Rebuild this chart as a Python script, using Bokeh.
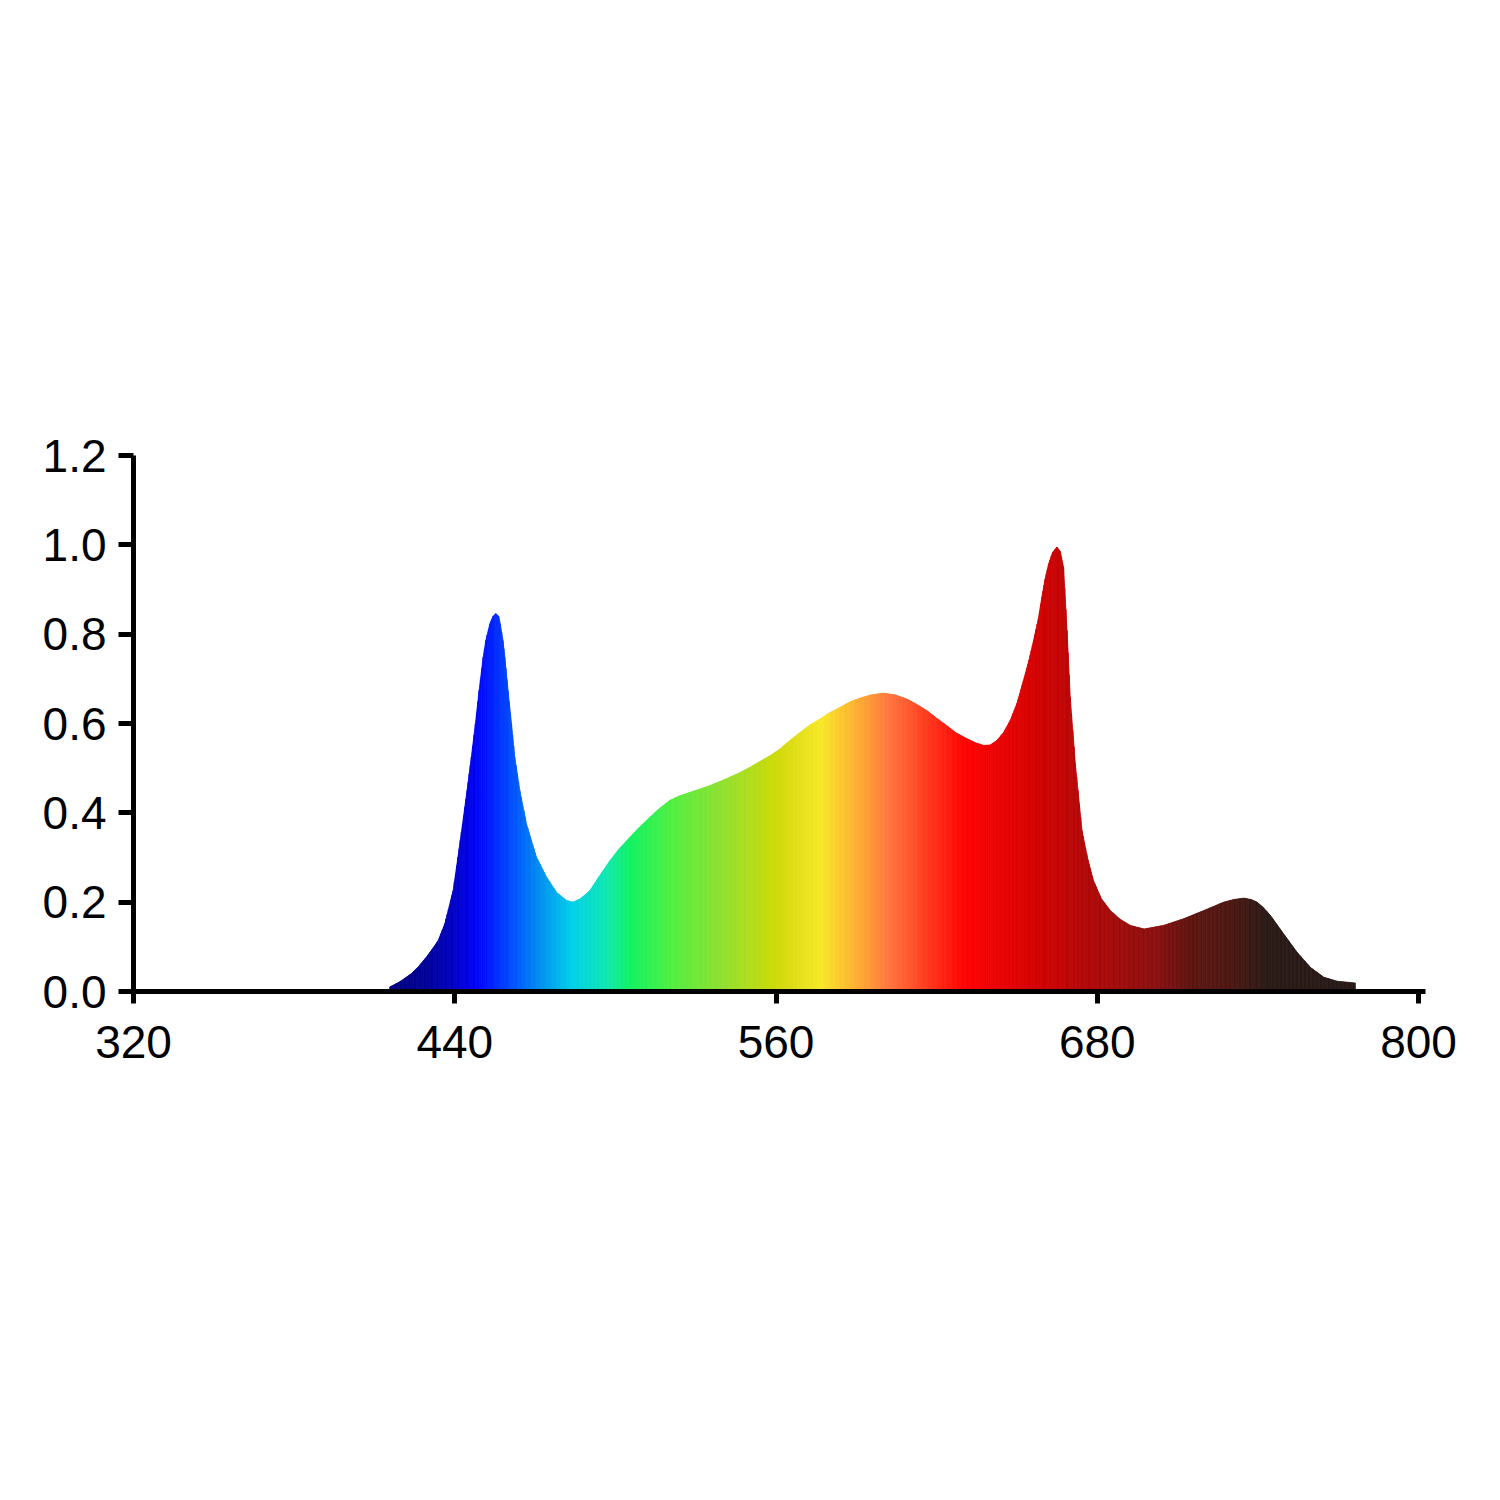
import math
from bokeh.plotting import figure
from bokeh.models import Range1d, FixedTicker, ColumnDataSource, CustomJSTickFormatter
from bokeh.embed import file_html
from bokeh.resources import INLINE

# ---- data ----
wavelength_nm = [
    415.7, 419.5, 423.8, 426.5, 429.4, 431.5, 433.8, 436.3, 439.4, 441.2,
    442.9, 444.6, 446.2, 447.7, 449.1, 450.6, 451.6, 453.1, 454.3, 455.3,
    456.4, 457.0, 458.0, 458.7, 459.9, 461.2, 462.4, 464.3, 466.8, 470.5,
    474.3, 478.0, 481.7, 484.2, 487.0, 490.5, 494.0, 498.0, 501.5, 505.4,
    509.0, 512.9, 516.5, 520.4, 524.0, 527.9, 531.5, 535.3, 539.0, 542.8,
    546.5, 550.3, 554.0, 557.8, 561.5, 565.0, 569.0, 572.5, 576.4, 580.0,
    583.9, 587.5, 591.4, 595.5, 600.1, 604.5, 608.8, 612.5, 616.3, 620.0,
    623.8, 627.0, 631.3, 634.5, 637.5, 640.0, 642.5, 645.0, 647.5, 650.0,
    652.4, 654.5, 656.2, 658.0, 659.3, 660.5, 661.8, 663.3, 664.9, 666.2,
    667.4, 668.7, 669.9, 671.8, 674.3, 676.5, 678.6, 681.5, 684.9, 688.5,
    692.3, 697.5, 704.8, 712.3, 719.7, 727.2, 731.0, 734.7, 737.5, 739.7,
    742.0, 744.7, 749.6, 754.6, 759.6, 764.6, 769.6, 776.4,
]
intensity = [
    0.010, 0.022, 0.040, 0.056, 0.077, 0.094, 0.114, 0.152, 0.226, 0.301,
    0.375, 0.450, 0.525, 0.599, 0.674, 0.748, 0.786, 0.823, 0.840, 0.846,
    0.840, 0.823, 0.786, 0.748, 0.674, 0.599, 0.525, 0.450, 0.375, 0.301,
    0.256, 0.222, 0.204, 0.200, 0.208, 0.226, 0.258, 0.293, 0.320, 0.345,
    0.368, 0.390, 0.410, 0.428, 0.438, 0.446, 0.453, 0.461, 0.470, 0.480,
    0.490, 0.502, 0.515, 0.528, 0.543, 0.561, 0.580, 0.596, 0.610, 0.624,
    0.636, 0.648, 0.657, 0.664, 0.668, 0.664, 0.655, 0.643, 0.629, 0.612,
    0.595, 0.580, 0.566, 0.557, 0.551, 0.552, 0.562, 0.580, 0.607, 0.645,
    0.696, 0.742, 0.786, 0.835, 0.883, 0.923, 0.957, 0.983, 0.995, 0.985,
    0.950, 0.808, 0.659, 0.510, 0.360, 0.295, 0.248, 0.208, 0.181, 0.162,
    0.148, 0.140, 0.148, 0.163, 0.181, 0.200, 0.206, 0.209, 0.206, 0.200,
    0.188, 0.170, 0.129, 0.088, 0.054, 0.032, 0.023, 0.019,
]
x_ticks = [320, 440, 560, 680, 800]
y_ticks = [0.0, 0.2, 0.4, 0.6, 0.8, 1.0, 1.2]

# ---- spectrum colour stops (style) ----
color_stops = [
    (414, "#00007a"), (430, "#00009a"), (440, "#0000c8"), (447, "#0000f0"),
    (451, "#0010ff"), (459, "#0040ff"), (472, "#0090f0"), (484, "#00d0e8"),
    (497, "#10e8b0"), (506, "#12f260"), (521, "#50f040"), (540, "#90e030"),
    (559, "#cada08"), (565, "#dcdc10"), (577, "#f8e828"), (590, "#fcb030"),
    (602, "#ff7840"), (615, "#ff4020"), (631, "#ff0000"), (652, "#dd0000"),
    (677, "#b00808"), (702, "#8a1010"), (714, "#601410"), (731, "#4a1812"),
    (743, "#2a1a16"), (780, "#261a16"),
]


def hex_rgb(h):
    return tuple(int(h[i:i + 2], 16) for i in (1, 3, 5))


def spectrum_color(w):
    if w <= color_stops[0][0]:
        return color_stops[0][1]
    for (w0, c0), (w1, c1) in zip(color_stops[:-1], color_stops[1:]):
        if w0 <= w <= w1:
            t = (w - w0) / (w1 - w0)
            a, b = hex_rgb(c0), hex_rgb(c1)
            r = [round(a[i] + (b[i] - a[i]) * t) for i in range(3)]
            return "#%02x%02x%02x" % tuple(r)
    return color_stops[-1][1]


# split each piecewise-linear segment of the curve into thin strips so the
# fill colour can follow the wavelength
xs, ys, cols = [], [], []
for i in range(len(wavelength_nm) - 1):
    x0, x1 = wavelength_nm[i], wavelength_nm[i + 1]
    y0, y1 = intensity[i], intensity[i + 1]
    n = max(1, math.ceil((x1 - x0) / 0.5))
    for k in range(n):
        ta, tb = k / n, (k + 1) / n
        xa, xb = x0 + (x1 - x0) * ta, x0 + (x1 - x0) * tb
        ya, yb = y0 + (y1 - y0) * ta, y0 + (y1 - y0) * tb
        xs.append([xa, xb, xb, xa])
        ys.append([0, 0, yb, ya])
        cols.append(spectrum_color((xa + xb) / 2))

src = ColumnDataSource(dict(xs=xs, ys=ys, color=cols))

p = figure(
    width=1480, height=1480,
    x_range=Range1d(320, 802.6), y_range=Range1d(0, 1.2),
    output_backend="svg", toolbar_location=None,
    min_border_left=133, min_border_right=55,
    min_border_top=455, min_border_bottom=489,
)
p.patches("xs", "ys", source=src, fill_color="color", line_color="color",
          line_width=0.8)

p.grid.visible = False
p.outline_line_color = None
p.background_fill_color = "white"
p.border_fill_color = "white"

for ax, ticks in ((p.xaxis[0], x_ticks), (p.yaxis[0], y_ticks)):
    ax.ticker = FixedTicker(ticks=ticks)
    ax.axis_line_width = 5
    ax.axis_line_color = "black"
    ax.major_tick_line_width = 5
    ax.major_tick_line_color = "black"
    ax.major_tick_in = 0
    ax.minor_tick_line_color = None
    ax.major_label_text_font = "Liberation Sans"
    ax.major_label_text_font_size = "46px"
    ax.major_label_text_color = "black"

p.xaxis[0].major_tick_out = 12
p.xaxis[0].major_label_standoff = 22
p.yaxis[0].major_tick_out = 15
p.yaxis[0].major_label_standoff = 12
p.yaxis[0].formatter = CustomJSTickFormatter(code="return tick.toFixed(1);")

open("out.html", "w").write(file_html(p, INLINE))
